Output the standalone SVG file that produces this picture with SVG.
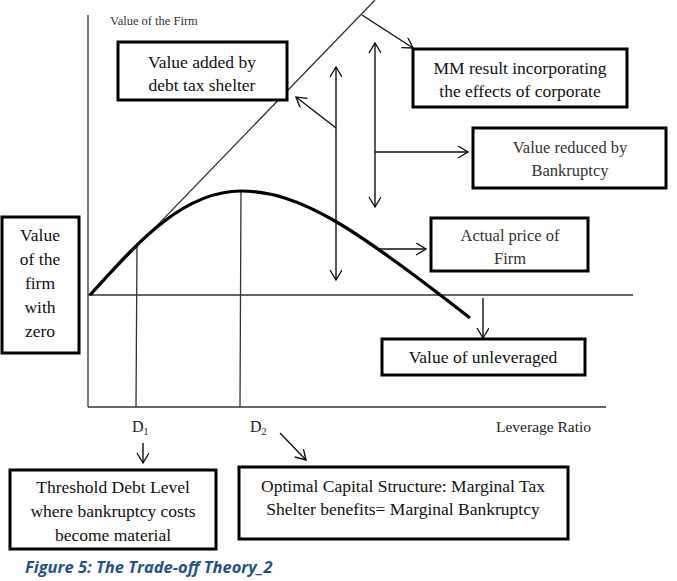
<svg xmlns="http://www.w3.org/2000/svg" width="677" height="581" viewBox="0 0 677 581">
<style>
.ax{stroke:#333;stroke-width:1.3;fill:none}
.ln{stroke:#111;stroke-width:1.4;fill:none}
.arr{stroke:#111;stroke-width:1.4;fill:none;marker-end:url(#ah)}
.dbl{stroke:#111;stroke-width:1.4;fill:none;marker-start:url(#ahs);marker-end:url(#ah)}
.box{fill:#fff;stroke:#000;stroke-width:3}
.t{font-family:"Liberation Serif",serif;font-size:17.5px;fill:#111;text-anchor:middle}
.tl{font-family:"Liberation Serif",serif;font-size:16.5px;fill:#333;text-anchor:middle}
</style>
<defs>
<marker id="ah" markerWidth="14" markerHeight="14" refX="11" refY="6" orient="auto" markerUnits="userSpaceOnUse"><path d="M1,0 L11,6 L1,12" fill="none" stroke="#111" stroke-width="1.4"/></marker>
<marker id="ahs" markerWidth="14" markerHeight="14" refX="1" refY="6" orient="auto" markerUnits="userSpaceOnUse"><path d="M11,0 L1,6 L11,12" fill="none" stroke="#111" stroke-width="1.4"/></marker>
</defs>
<g id="axes">
<line class="ax" x1="88" y1="15" x2="88" y2="407"/>
<line class="ax" x1="88" y1="407" x2="606" y2="407"/>
<line class="ax" x1="88" y1="295" x2="633" y2="295"/>
<line class="ax" x1="137" y1="245" x2="136" y2="407"/>
<line class="ax" x1="241" y1="191" x2="240" y2="407"/>
<line class="ax" x1="90" y1="295" x2="375" y2="0"/>
<path d="M90,295 C128,254 178,191 241,191 C300,191 355,228 470,318" fill="none" stroke="#000" stroke-width="3.2"/>
<text x="110" y="25" style="font-family:'Liberation Serif',serif;font-size:12.5px;fill:#333">Value of the Firm</text>
<text x="132" y="432" style="font-family:'Liberation Serif',serif;font-size:16px;fill:#222">D<tspan font-size="10" dy="3">1</tspan></text>
<text x="250" y="432" style="font-family:'Liberation Serif',serif;font-size:16px;fill:#222">D<tspan font-size="10" dy="3">2</tspan></text>
<text x="496" y="432" style="font-family:'Liberation Serif',serif;font-size:15.5px;fill:#222">Leverage Ratio</text>
</g>
<g id="connectors">
<line class="dbl" x1="336" y1="67" x2="336" y2="280"/>
<line class="dbl" x1="375" y1="43" x2="375" y2="207"/>
<line class="arr" x1="336" y1="128" x2="296" y2="97"/>
<line class="arr" x1="362" y1="15" x2="413" y2="48"/>
<line class="arr" x1="375" y1="152" x2="468" y2="152"/>
<line class="arr" x1="377" y1="249" x2="426" y2="249"/>
<line class="arr" x1="483" y1="298" x2="483" y2="338"/>
<line class="arr" x1="143" y1="443" x2="143" y2="463"/>
<line class="arr" x1="280" y1="433" x2="306" y2="460"/>
</g>
<g id="n_taxshelter">
<rect class="box" x="118" y="42" width="169" height="58"/>
<text class="t" x="202" y="68">Value added by</text>
<text class="t" x="202" y="91">debt tax shelter</text>
</g>
<g id="n_mm">
<rect class="box" x="413" y="49" width="214" height="58"/>
<text class="t" x="520" y="74">MM result incorporating</text>
<text class="t" x="520" y="97">the effects of corporate</text>
</g>
<g id="n_bankruptcy">
<rect class="box" x="473" y="128" width="193" height="60"/>
<text class="tl" x="570" y="153">Value reduced by</text>
<text class="tl" x="570" y="176">Bankruptcy</text>
</g>
<g id="n_actual">
<rect class="box" x="431" y="218" width="157" height="53"/>
<text class="tl" x="510" y="241">Actual price of</text>
<text class="tl" x="510" y="264">Firm</text>
</g>
<g id="n_unlev">
<rect class="box" x="382" y="339" width="203" height="36"/>
<text class="t" x="483" y="363">Value of unleveraged</text>
</g>
<g id="n_zero">
<rect class="box" x="2" y="217" width="77" height="136"/>
<text class="t" x="40" y="241">Value</text>
<text class="t" x="40" y="265">of the</text>
<text class="t" x="40" y="289">firm</text>
<text class="t" x="40" y="313">with</text>
<text class="t" x="40" y="337">zero</text>
</g>
<g id="n_threshold">
<rect class="box" x="10" y="470" width="206" height="79"/>
<text class="t" x="113" y="493">Threshold Debt Level</text>
<text class="t" x="113" y="517">where bankruptcy costs</text>
<text class="t" x="113" y="541">become material</text>
</g>
<g id="n_optimal">
<rect class="box" x="239" y="467" width="329" height="72"/>
<text class="t" x="403" y="492">Optimal Capital Structure: Marginal Tax</text>
<text class="t" x="403" y="515">Shelter benefits= Marginal Bankruptcy</text>
</g>
<text x="25" y="573" style="font-family:'Open Sans',sans-serif;font-size:16.5px;font-weight:bold;font-style:italic;fill:#24528f">Figure 5: The Trade-off Theory_2</text>
</svg>
